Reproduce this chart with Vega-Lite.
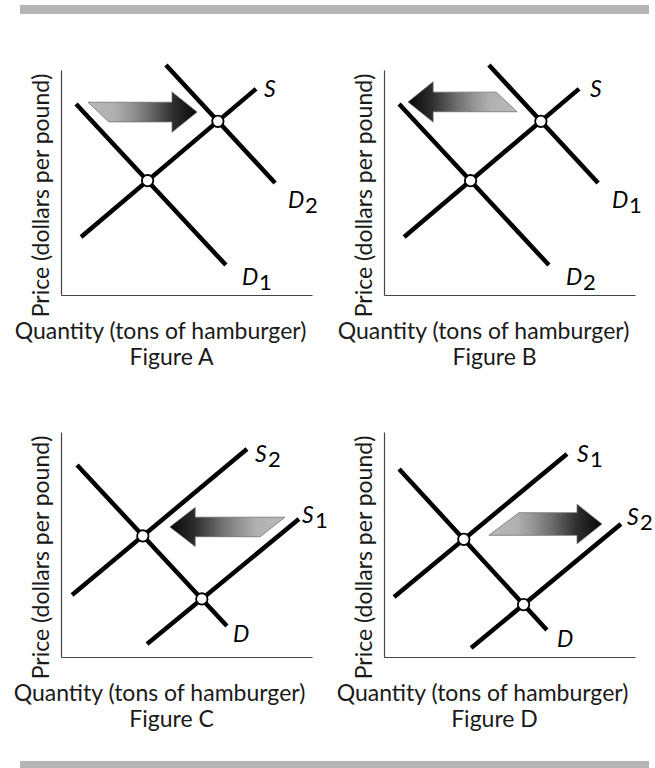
{
  "$schema": "https://vega.github.io/schema/vega-lite/v6.json",
  "padding": {"left": 12, "top": 5, "right": 0, "bottom": 0},
  "background": "white",
  "datasets": {
    "bars": [
      {"bar": "top", "x0": -0.0697, "x1": 1, "y0": 0.591, "y1": 1},
      {"bar": "bottom", "x0": -0.0697, "x1": 1, "y0": 0, "y1": 1}
    ],
    "diagram": [
      {"panel": "A", "kind": "curve", "name": "S", "q": 8.0, "p": 25.8},
      {"panel": "A", "kind": "curve", "name": "S", "q": 77.7, "p": 91.6},
      {"panel": "A", "kind": "curve", "name": "D1", "q": 6.0, "p": 84.9},
      {"panel": "A", "kind": "curve", "name": "D1", "q": 65.7, "p": 13.3},
      {"panel": "A", "kind": "curve", "name": "D2", "q": 41.8, "p": 102.2},
      {"panel": "A", "kind": "curve", "name": "D2", "q": 85.3, "p": 49.8},
      {"panel": "A", "kind": "eq", "q": 34.5, "p": 50.8},
      {"panel": "A", "kind": "eq", "q": 62.5, "p": 77.2},
      {"panel": "A", "kind": "arrow", "q": 32.5, "p": 81.3},
      {"panel": "A", "kind": "label", "letter": "S", "sub": "", "q": 80.9, "p": 88.0},
      {"panel": "A", "kind": "label", "letter": "D", "sub": "2", "q": 90.4, "p": 38.7},
      {"panel": "A", "kind": "label", "letter": "D", "sub": "1", "q": 72.1, "p": 4.4},

      {"panel": "B", "kind": "curve", "name": "S", "q": 8.0, "p": 25.8},
      {"panel": "B", "kind": "curve", "name": "S", "q": 77.7, "p": 91.6},
      {"panel": "B", "kind": "curve", "name": "D2", "q": 6.0, "p": 84.9},
      {"panel": "B", "kind": "curve", "name": "D2", "q": 65.7, "p": 13.3},
      {"panel": "B", "kind": "curve", "name": "D1", "q": 41.8, "p": 102.2},
      {"panel": "B", "kind": "curve", "name": "D1", "q": 85.3, "p": 49.8},
      {"panel": "B", "kind": "eq", "q": 34.5, "p": 50.8},
      {"panel": "B", "kind": "eq", "q": 62.5, "p": 77.2},
      {"panel": "B", "kind": "arrow", "q": 31.3, "p": 85.8},
      {"panel": "B", "kind": "label", "letter": "S", "sub": "", "q": 82.1, "p": 88.0},
      {"panel": "B", "kind": "label", "letter": "D", "sub": "1", "q": 90.8, "p": 38.7},
      {"panel": "B", "kind": "label", "letter": "D", "sub": "2", "q": 72.5, "p": 4.4},

      {"panel": "C", "kind": "curve", "name": "S2", "q": 4.4, "p": 27.6},
      {"panel": "C", "kind": "curve", "name": "S2", "q": 74.1, "p": 92.4},
      {"panel": "C", "kind": "curve", "name": "S1", "q": 34.3, "p": 5.8},
      {"panel": "C", "kind": "curve", "name": "S1", "q": 94.8, "p": 61.3},
      {"panel": "C", "kind": "curve", "name": "D", "q": 6.4, "p": 85.3},
      {"panel": "C", "kind": "curve", "name": "D", "q": 66.1, "p": 13.8},
      {"panel": "C", "kind": "eq", "q": 32.6, "p": 53.8},
      {"panel": "C", "kind": "eq", "q": 56.1, "p": 25.8},
      {"panel": "C", "kind": "arrow", "q": 66.3, "p": 57.8},
      {"panel": "C", "kind": "label", "letter": "S", "sub": "2", "q": 77.3, "p": 86.7},
      {"panel": "C", "kind": "label", "letter": "S", "sub": "1", "q": 96.0, "p": 59.6},
      {"panel": "C", "kind": "label", "letter": "D", "sub": "", "q": 68.5, "p": 6.7},

      {"panel": "D", "kind": "curve", "name": "S1", "q": 4.0, "p": 26.7},
      {"panel": "D", "kind": "curve", "name": "S1", "q": 72.9, "p": 90.2},
      {"panel": "D", "kind": "curve", "name": "S2", "q": 34.7, "p": 4.0},
      {"panel": "D", "kind": "curve", "name": "S2", "q": 94.4, "p": 59.1},
      {"panel": "D", "kind": "curve", "name": "D", "q": 6.0, "p": 83.6},
      {"panel": "D", "kind": "curve", "name": "D", "q": 64.9, "p": 12.0},
      {"panel": "D", "kind": "eq", "q": 31.8, "p": 52.3},
      {"panel": "D", "kind": "eq", "q": 55.6, "p": 23.3},
      {"panel": "D", "kind": "arrow", "q": 64.3, "p": 59.1},
      {"panel": "D", "kind": "label", "letter": "S", "sub": "1", "q": 76.9, "p": 86.7},
      {"panel": "D", "kind": "label", "letter": "S", "sub": "2", "q": 96.8, "p": 58.7},
      {"panel": "D", "kind": "label", "letter": "D", "sub": "", "q": 68.9, "p": 4.4}
    ]
  },
  "config": {
    "view": {"stroke": null},
    "axis": {
      "labels": false, "ticks": false, "grid": false,
      "domainColor": "#444", "domainWidth": 1.2,
      "titleFont": "Lato", "titleFontSize": 23, "titleFontWeight": "normal", "titleColor": "#1a1a1a"
    },
    "axisX": {"titlePadding": 25},
    "axisY": {"titlePadding": 8},
    "title": {"font": "Lato", "fontSize": 23, "fontWeight": "normal", "color": "#1a1a1a", "orient": "bottom", "anchor": "middle", "frame": "group", "offset": 0, "dx": -15}
  },
  "vconcat": [
    {
      "width": 588, "height": 22,
      "data": {"name": "bars"},
      "transform": [{"filter": "datum.bar === 'top'"}],
      "mark": {"type": "rect", "color": "#b5b5b5", "clip": false},
      "encoding": {
        "x": {"field": "x0", "type": "quantitative", "scale": {"domain": [0, 1]}, "axis": null},
        "x2": {"field": "x1"},
        "y": {"field": "y0", "type": "quantitative", "scale": {"domain": [0, 1]}, "axis": null},
        "y2": {"field": "y1"}
      }
    },
    {
      "spacing": 62,
      "vconcat": [
        {
          "spacing": 18,
          "hconcat": [
            {
              "width": 251, "height": 225,
              "title": "Figure A",
              "data": {"name": "diagram"},
              "transform": [{"filter": "datum.panel === 'A'"}],
              "encoding": {
                "x": {"field": "q", "type": "quantitative", "scale": {"domain": [0, 100]}, "axis": {"title": "Quantity (tons of hamburger)", "titleX": 99}},
                "y": {"field": "p", "type": "quantitative", "scale": {"domain": [0, 100]}, "axis": {"title": "Price (dollars per pound)", "titleY": 125}}
              },
              "layer": [
                {"transform": [{"filter": "datum.kind === 'curve'"}], "mark": {"type": "line", "color": "#000", "strokeWidth": 4.5, "strokeCap": "butt"}, "encoding": {"detail": {"field": "name"}}},
                {"transform": [{"filter": "datum.kind === 'arrow'"}], "mark": {"type": "point", "shape": "M -1 -0.18 L 0.54 -0.18 L 0.54 -0.37 L 1 0 L 0.54 0.37 L 0.54 0.18 L -0.62 0.18 Z", "size": 11881, "filled": true, "opacity": 1, "stroke": "#666", "strokeWidth": 0.7,
                  "fill": {"gradient": "linear", "x1": 0, "y1": 0, "x2": 1, "y2": 0, "stops": [{"offset": 0, "color": "#bababa"}, {"offset": 0.25, "color": "#b0b0b0"}, {"offset": 0.4, "color": "#939393"}, {"offset": 0.55, "color": "#6f6f6f"}, {"offset": 0.68, "color": "#4a4a4a"}, {"offset": 0.78, "color": "#2e2e2e"}, {"offset": 1, "color": "#080808"}]}}},
                {"transform": [{"filter": "datum.kind === 'eq'"}], "mark": {"type": "point", "shape": "circle", "size": 130, "filled": true, "fill": "white", "stroke": "black", "strokeWidth": 1.8, "opacity": 1}},
                {"transform": [{"filter": "datum.kind === 'label'"}], "mark": {"type": "text", "font": "Lato", "fontStyle": "italic", "fontSize": 23, "align": "left", "baseline": "alphabetic", "color": "#000"}, "encoding": {"text": {"field": "letter"}}},
                {"transform": [{"filter": "datum.kind === 'label' && datum.letter === 'D'"}], "mark": {"type": "text", "font": "Lato", "fontSize": 22, "align": "left", "baseline": "alphabetic", "dx": 17, "dy": 5, "color": "#000"}, "encoding": {"text": {"field": "sub"}}},
                {"transform": [{"filter": "datum.kind === 'label' && datum.letter === 'S'"}], "mark": {"type": "text", "font": "Lato", "fontSize": 22, "align": "left", "baseline": "alphabetic", "dx": 13, "dy": 5, "color": "#000"}, "encoding": {"text": {"field": "sub"}}}
              ]
            },
            {
              "width": 251, "height": 225,
              "title": "Figure B",
              "data": {"name": "diagram"},
              "transform": [{"filter": "datum.panel === 'B'"}],
              "encoding": {
                "x": {"field": "q", "type": "quantitative", "scale": {"domain": [0, 100]}, "axis": {"title": "Quantity (tons of hamburger)", "titleX": 99}},
                "y": {"field": "p", "type": "quantitative", "scale": {"domain": [0, 100]}, "axis": {"title": "Price (dollars per pound)", "titleY": 125}}
              },
              "layer": [
                {"transform": [{"filter": "datum.kind === 'curve'"}], "mark": {"type": "line", "color": "#000", "strokeWidth": 4.5, "strokeCap": "butt"}, "encoding": {"detail": {"field": "name"}}},
                {"transform": [{"filter": "datum.kind === 'arrow'"}], "mark": {"type": "point", "shape": "M 1 0.18 L -0.54 0.18 L -0.54 0.37 L -1 0 L -0.54 -0.37 L -0.54 -0.18 L 0.62 -0.18 Z", "size": 11881, "filled": true, "opacity": 1, "stroke": "#666", "strokeWidth": 0.7,
                  "fill": {"gradient": "linear", "x1": 1, "y1": 0, "x2": 0, "y2": 0, "stops": [{"offset": 0, "color": "#bababa"}, {"offset": 0.25, "color": "#b0b0b0"}, {"offset": 0.4, "color": "#939393"}, {"offset": 0.55, "color": "#6f6f6f"}, {"offset": 0.68, "color": "#4a4a4a"}, {"offset": 0.78, "color": "#2e2e2e"}, {"offset": 1, "color": "#080808"}]}}},
                {"transform": [{"filter": "datum.kind === 'eq'"}], "mark": {"type": "point", "shape": "circle", "size": 130, "filled": true, "fill": "white", "stroke": "black", "strokeWidth": 1.8, "opacity": 1}},
                {"transform": [{"filter": "datum.kind === 'label'"}], "mark": {"type": "text", "font": "Lato", "fontStyle": "italic", "fontSize": 23, "align": "left", "baseline": "alphabetic", "color": "#000"}, "encoding": {"text": {"field": "letter"}}},
                {"transform": [{"filter": "datum.kind === 'label' && datum.letter === 'D'"}], "mark": {"type": "text", "font": "Lato", "fontSize": 22, "align": "left", "baseline": "alphabetic", "dx": 17, "dy": 5, "color": "#000"}, "encoding": {"text": {"field": "sub"}}},
                {"transform": [{"filter": "datum.kind === 'label' && datum.letter === 'S'"}], "mark": {"type": "text", "font": "Lato", "fontSize": 22, "align": "left", "baseline": "alphabetic", "dx": 13, "dy": 5, "color": "#000"}, "encoding": {"text": {"field": "sub"}}}
              ]
            }
          ]
        },
        {
          "spacing": 7,
          "hconcat": [
            {
              "width": 251, "height": 225,
              "title": "Figure C",
              "data": {"name": "diagram"},
              "transform": [{"filter": "datum.panel === 'C'"}],
              "encoding": {
                "x": {"field": "q", "type": "quantitative", "scale": {"domain": [0, 100]}, "axis": {"title": "Quantity (tons of hamburger)", "titleX": 98}},
                "y": {"field": "p", "type": "quantitative", "scale": {"domain": [0, 100]}, "axis": {"title": "Price (dollars per pound)", "titleY": 125}}
              },
              "layer": [
                {"transform": [{"filter": "datum.kind === 'curve'"}], "mark": {"type": "line", "color": "#000", "strokeWidth": 4.5, "strokeCap": "butt"}, "encoding": {"detail": {"field": "name"}}},
                {"transform": [{"filter": "datum.kind === 'arrow'"}], "mark": {"type": "point", "shape": "M -1 0 L -0.56 -0.34 L -0.56 -0.17 L 1 -0.17 L 0.57 0.17 L -0.56 0.17 L -0.56 0.34 Z", "size": 13225, "filled": true, "opacity": 1, "stroke": "#666", "strokeWidth": 0.7,
                  "fill": {"gradient": "linear", "x1": 1, "y1": 0, "x2": 0, "y2": 0, "stops": [{"offset": 0, "color": "#bababa"}, {"offset": 0.25, "color": "#b0b0b0"}, {"offset": 0.4, "color": "#939393"}, {"offset": 0.55, "color": "#6f6f6f"}, {"offset": 0.68, "color": "#4a4a4a"}, {"offset": 0.78, "color": "#2e2e2e"}, {"offset": 1, "color": "#080808"}]}}},
                {"transform": [{"filter": "datum.kind === 'eq'"}], "mark": {"type": "point", "shape": "circle", "size": 130, "filled": true, "fill": "white", "stroke": "black", "strokeWidth": 1.8, "opacity": 1}},
                {"transform": [{"filter": "datum.kind === 'label'"}], "mark": {"type": "text", "font": "Lato", "fontStyle": "italic", "fontSize": 23, "align": "left", "baseline": "alphabetic", "color": "#000"}, "encoding": {"text": {"field": "letter"}}},
                {"transform": [{"filter": "datum.kind === 'label' && datum.letter === 'D'"}], "mark": {"type": "text", "font": "Lato", "fontSize": 22, "align": "left", "baseline": "alphabetic", "dx": 17, "dy": 5, "color": "#000"}, "encoding": {"text": {"field": "sub"}}},
                {"transform": [{"filter": "datum.kind === 'label' && datum.letter === 'S'"}], "mark": {"type": "text", "font": "Lato", "fontSize": 22, "align": "left", "baseline": "alphabetic", "dx": 13, "dy": 5, "color": "#000"}, "encoding": {"text": {"field": "sub"}}}
              ]
            },
            {
              "width": 251, "height": 225,
              "title": "Figure D",
              "data": {"name": "diagram"},
              "transform": [{"filter": "datum.panel === 'D'"}],
              "encoding": {
                "x": {"field": "q", "type": "quantitative", "scale": {"domain": [0, 100]}, "axis": {"title": "Quantity (tons of hamburger)", "titleX": 98}},
                "y": {"field": "p", "type": "quantitative", "scale": {"domain": [0, 100]}, "axis": {"title": "Price (dollars per pound)", "titleY": 125}}
              },
              "layer": [
                {"transform": [{"filter": "datum.kind === 'curve'"}], "mark": {"type": "line", "color": "#000", "strokeWidth": 4.5, "strokeCap": "butt"}, "encoding": {"detail": {"field": "name"}}},
                {"transform": [{"filter": "datum.kind === 'arrow'"}], "mark": {"type": "point", "shape": "M 1 0 L 0.56 -0.35 L 0.56 -0.2 L -0.47 -0.2 L -1 0.2 L 0.56 0.2 L 0.56 0.35 Z", "size": 12769, "filled": true, "opacity": 1, "stroke": "#666", "strokeWidth": 0.7,
                  "fill": {"gradient": "linear", "x1": 0, "y1": 0, "x2": 1, "y2": 0, "stops": [{"offset": 0, "color": "#bababa"}, {"offset": 0.25, "color": "#b0b0b0"}, {"offset": 0.4, "color": "#939393"}, {"offset": 0.55, "color": "#6f6f6f"}, {"offset": 0.68, "color": "#4a4a4a"}, {"offset": 0.78, "color": "#2e2e2e"}, {"offset": 1, "color": "#080808"}]}}},
                {"transform": [{"filter": "datum.kind === 'eq'"}], "mark": {"type": "point", "shape": "circle", "size": 130, "filled": true, "fill": "white", "stroke": "black", "strokeWidth": 1.8, "opacity": 1}},
                {"transform": [{"filter": "datum.kind === 'label'"}], "mark": {"type": "text", "font": "Lato", "fontStyle": "italic", "fontSize": 23, "align": "left", "baseline": "alphabetic", "color": "#000"}, "encoding": {"text": {"field": "letter"}}},
                {"transform": [{"filter": "datum.kind === 'label' && datum.letter === 'D'"}], "mark": {"type": "text", "font": "Lato", "fontSize": 22, "align": "left", "baseline": "alphabetic", "dx": 17, "dy": 5, "color": "#000"}, "encoding": {"text": {"field": "sub"}}},
                {"transform": [{"filter": "datum.kind === 'label' && datum.letter === 'S'"}], "mark": {"type": "text", "font": "Lato", "fontSize": 22, "align": "left", "baseline": "alphabetic", "dx": 13, "dy": 5, "color": "#000"}, "encoding": {"text": {"field": "sub"}}}
              ]
            }
          ]
        }
      ]
    },
    {
      "width": 588, "height": 10,
      "data": {"name": "bars"},
      "transform": [{"filter": "datum.bar === 'bottom'"}],
      "mark": {"type": "rect", "color": "#b5b5b5", "clip": false},
      "encoding": {
        "x": {"field": "x0", "type": "quantitative", "scale": {"domain": [0, 1]}, "axis": null},
        "x2": {"field": "x1"},
        "y": {"field": "y0", "type": "quantitative", "scale": {"domain": [0, 1]}, "axis": null},
        "y2": {"field": "y1"}
      }
    }
  ],
  "spacing": 29
}
